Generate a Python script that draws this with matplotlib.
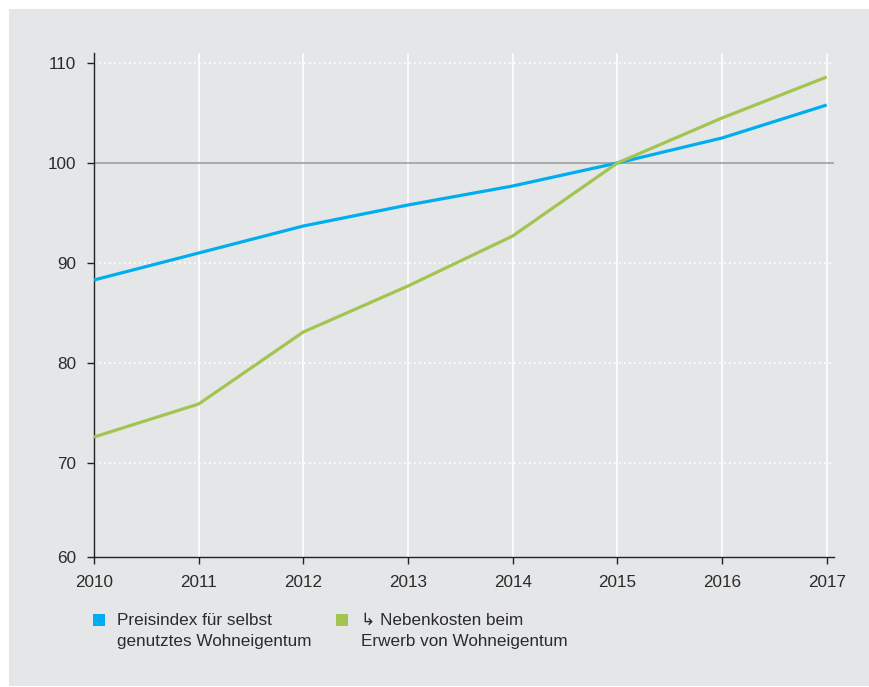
import matplotlib
matplotlib.use("Agg")
import matplotlib.pyplot as plt
from matplotlib.patches import Rectangle

# data
years = [2010, 2011, 2012, 2013, 2014, 2015, 2016, 2017]
preisindex = [88.3, 91.0, 93.7, 95.8, 97.7, 100.0, 102.5, 105.8]
nebenkosten = [72.6, 75.9, 83.1, 87.7, 92.7, 100.0, 104.5, 108.6]
ytick_values = [70, 80, 90, 100, 110]
labels = ["Preisindex für selbst\ngenutztes Wohneigentum",
          "\u21b3 Nebenkosten beim\nErwerb von Wohneigentum"]

BLUE = "#00aeef"
GREEN = "#a3c451"
PANEL = "#e5e6e8"
TEXT = "#2b2b2b"
FS = 12.3

plt.rcParams['font.family'] = ['Liberation Sans', 'DejaVu Sans']

fig = plt.figure(figsize=(8.7, 6.87), dpi=100)
fig.patch.set_facecolor("white")
# grey panel behind everything
fig.patches.append(Rectangle((9 / 870, 1 / 687), 860 / 870, 677 / 687,
                             transform=fig.transFigure,
                             facecolor=PANEL, edgecolor="none", zorder=-10))

ax = fig.add_axes([94 / 870, 1 - 557 / 687, (834 - 94) / 870, (557 - 53) / 687])
ax.set_facecolor(PANEL)

ax.set_xlim(2010, 2017.07)
ax.set_ylim(60.6, 111)

# grid: vertical solid, horizontal dotted, 100 reference line grey
for yr in years[1:]:
    ax.axvline(yr, color="white", lw=1.2, zorder=1)
for v in ytick_values:
    if v == 100:
        ax.axhline(v, color="#a0a0a0", lw=1.2, zorder=1)
    else:
        ax.axhline(v, color="white", lw=1.2, ls=(0, (1, 2)), zorder=1)

ax.plot(years, preisindex, color=BLUE, lw=2.3, zorder=3, solid_capstyle="butt")
ax.plot(years, nebenkosten, color=GREEN, lw=2.3, zorder=3, solid_capstyle="butt")

for side in ["top", "right"]:
    ax.spines[side].set_visible(False)
for side in ["left", "bottom"]:
    ax.spines[side].set_color("#222222")
    ax.spines[side].set_linewidth(1.0)

ax.set_xticks(years)
ax.set_xticklabels([str(y) for y in years])
ax.set_yticks([60.6] + ytick_values)
ax.set_yticklabels(["60"] + [str(v) for v in ytick_values])
ax.tick_params(axis="both", direction="out", length=5, width=1.0, color="#222222",
               labelsize=FS, labelcolor=TEXT)
ax.tick_params(axis="x", pad=8)
ax.tick_params(axis="y", pad=8)

# legend drawn by hand below the axes
colors = [BLUE, GREEN]
box_x = [93, 336]
text_x = [117, 361]
for c, bx, tx, lab in zip(colors, box_x, text_x, labels):
    fig.patches.append(Rectangle((bx / 870, 1 - 626 / 687), 12.5 / 870, 12.5 / 687,
                                 transform=fig.transFigure, facecolor=c,
                                 edgecolor="none"))
    fig.text(tx / 870, 1 - 613 / 687, lab, ha="left", va="top", fontsize=FS,
             color=TEXT, linespacing=1.5)

fig.savefig("out.png", dpi=100, facecolor=fig.get_facecolor())
